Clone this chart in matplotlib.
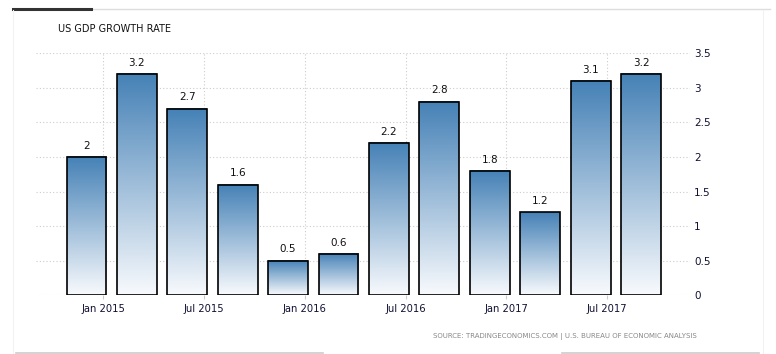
import numpy as np
import matplotlib
matplotlib.use("Agg")
import matplotlib.pyplot as plt
from matplotlib.colors import LinearSegmentedColormap
from matplotlib.patches import Rectangle
from matplotlib.lines import Line2D

# Data
values = [2.0, 3.2, 2.7, 1.6, 0.5, 0.6, 2.2, 2.8, 1.8, 1.2, 3.1, 3.2]
tick_labels = ["Jan 2015", "Jul 2015", "Jan 2016", "Jul 2016", "Jan 2017", "Jul 2017"]
tick_bar_index = [0, 2, 4, 6, 8, 10]
y_ticks = [0, 0.5, 1, 1.5, 2, 2.5, 3, 3.5]
y_tick_labels = ["0", "0.5", "1", "1.5", "2", "2.5", "3", "3.5"]
title = "US GDP GROWTH RATE"
source = "SOURCE: TRADINGECONOMICS.COM | U.S. BUREAU OF ECONOMIC ANALYSIS"

W, H = 776, 354
fig = plt.figure(figsize=(W / 100, H / 100), dpi=100)
ax = fig.add_axes([36 / W, 1 - 295.3 / H, (690 - 36) / W, (295.3 - 53.3) / H])

cmap = LinearSegmentedColormap.from_list("g", ["#f8fafd", "#4581b6"])
grad = np.linspace(0, 1, 256).reshape(-1, 1)
bw = 0.79
x = np.arange(len(values))
for xi, v in zip(x, values):
    ax.imshow(grad, extent=[xi - bw / 2, xi + bw / 2, 0, v], origin="lower",
              cmap=cmap, aspect="auto", zorder=2, interpolation="bilinear")
    ax.add_patch(Rectangle((xi - bw / 2, 0), bw, v, fill=False,
                           edgecolor="black", linewidth=1.2, zorder=3))
    ax.annotate(f"{v:g}", (xi, v), xytext=(0, 4.5), textcoords="offset points",
                ha="center", va="bottom", fontsize=7.5, color="#111111")

ax.set_xlim(-1.0, 11.97)
ax.set_ylim(0, 3.5)

tick_pos = [i + 0.33 for i in tick_bar_index]
ax.set_xticks(tick_pos)
ax.set_xticklabels(tick_labels, fontsize=7.2, color="#111133")
ax.tick_params(axis="x", length=3, color="#cccccc", pad=3)

ax.yaxis.tick_right()
ax.set_yticks(y_ticks)
ax.set_yticklabels(y_tick_labels, fontsize=7.5, color="#111133")
ax.tick_params(axis="y", length=0, pad=3)

ax.grid(True, color="#cccccc", linestyle=(0, (1, 2)), linewidth=0.8, zorder=0)
ax.set_axisbelow(True)
for s in ax.spines.values():
    s.set_visible(False)

# Title and source
fig.text(58 / W, 1 - 29 / H, title, fontsize=7, color="#111111", va="center", ha="left")
fig.text(565 / W, 1 - 337 / H, source, fontsize=5, color="#888888", va="center", ha="center")

# Frame decorations
def hline(x0, x1, y, color, lw):
    fig.add_artist(Line2D([x0 / W, x1 / W], [1 - y / H, 1 - y / H], color=color, linewidth=lw,
                          transform=fig.transFigure))

def vline(x0, y0, y1, color, lw):
    fig.add_artist(Line2D([x0 / W, x0 / W], [1 - y0 / H, 1 - y1 / H], color=color, linewidth=lw,
                          transform=fig.transFigure))

hline(13, 770, 9, "#dddddd", 1.0)
hline(13, 91, 9, "#333333", 2.2)
vline(13, 10, 354, "#f2f2f2", 0.8)
vline(763, 10, 354, "#f2f2f2", 0.8)
hline(16, 323, 352.7, "#cccccc", 1.2)
hline(562, 759, 352.7, "#cccccc", 1.2)

fig.savefig("out.png", dpi=100)
